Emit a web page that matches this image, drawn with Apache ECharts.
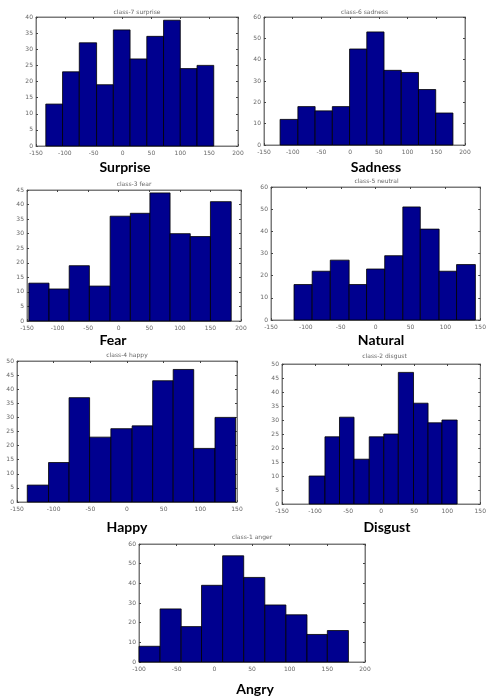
<!DOCTYPE html>
<html>
<head>
<meta charset="utf-8">
<script src="https://cdn.jsdelivr.net/npm/echarts@6/dist/echarts.min.js"></script>
<style>
  * { margin: 0; padding: 0; }
  body { background: #fff; }
  #chart { width: 489px; height: 696px; }
</style>
</head>
<body>
<div id="chart"></div>
<script>
// bin edges (x) and counts per class
var surpriseEdges = [-133, -104, -75, -45, -16, 13, 42, 71, 100, 129, 158];
var surpriseCounts = [13, 23, 32, 19, 36, 27, 34, 39, 24, 25];
var sadnessEdges = [-122, -91, -61, -31, -1, 29, 59, 89, 119, 149, 179];
var sadnessCounts = [12, 18, 16, 18, 45, 53, 35, 34, 26, 15];
var fearEdges = [-147, -114, -81, -48, -14, 19, 51, 84, 117, 150, 184];
var fearCounts = [13, 11, 19, 12, 36, 37, 44, 30, 29, 41];
var neutralEdges = [-117, -91, -65, -38, -13, 13, 39, 64, 91, 116, 143];
var neutralCounts = [16, 22, 27, 16, 23, 29, 51, 41, 22, 25];
var happyEdges = [-136, -107, -79, -51, -22, 7, 35, 63, 91, 120, 148];
var happyCounts = [6, 14, 37, 23, 26, 27, 43, 47, 19, 30];
var disgustEdges = [-109, -85, -63, -41, -18, 4, 26, 49, 71, 92, 115];
var disgustCounts = [10, 24, 31, 16, 24, 25, 47, 36, 29, 30];
var angerEdges = [-100, -72, -44, -17, 11, 39, 67, 95, 123, 150, 178];
var angerCounts = [8, 27, 18, 39, 54, 43, 29, 24, 14, 16];

var plotTitles = ['class-7 surprise', 'class-6 sadness', 'class-3 fear', 'class-5 neutral',
                  'class-4 happy', 'class-2 disgust', 'class-1 anger'];
var captions = ['Surprise', 'Sadness', 'Fear', 'Natural', 'Happy', 'Disgust', 'Angry'];
// axis ranges [xmin, xmax, ymax, yInterval]
var xMins = [-150, -150, -150, -150, -150, -150, -100];
var xMaxs = [200, 200, 200, 150, 150, 150, 200];
var yMaxs = [40, 60, 45, 60, 50, 50, 60];
var yIntervals = [5, 10, 5, 10, 5, 5, 10];

var allEdges = [surpriseEdges, sadnessEdges, fearEdges, neutralEdges, happyEdges, disgustEdges, angerEdges];
var allCounts = [surpriseCounts, sadnessCounts, fearCounts, neutralCounts, happyCounts, disgustCounts, angerCounts];

// layout: [left, top, right, bottom] of plot box, title y, caption x, caption y
var boxes = [
  [36, 17, 238, 146, 12, 125, 167],
  [264, 17, 465, 145, 12, 376, 167],
  [27, 190, 241, 321, 184, 113, 340],
  [271, 187, 482, 320, 181, 381, 340],
  [17, 361, 237, 502, 355, 127, 527],
  [282, 364, 487, 504, 356, 387, 527],
  [139, 544, 365, 662, 537, 255, 689]
];

var chart = echarts.init(document.getElementById('chart'));
var grids = [], xAxes = [], yAxes = [], series = [], graphics = [];
var lineCol = '#7a7a7a';
var tickLab = { fontSize: 6, color: '#666', fontFamily: 'DejaVu Sans' };

function renderBin(params, api) {
  var p0 = api.coord([api.value(0), 0]);
  var p1 = api.coord([api.value(1), api.value(2)]);
  return {
    type: 'rect',
    shape: { x: p0[0], y: p1[1], width: p1[0] - p0[0], height: p0[1] - p1[1] },
    style: { fill: '#00008F', stroke: '#000', lineWidth: 0.8 }
  };
}

for (var k = 0; k < 7; k++) {
  var b = boxes[k];
  grids.push({ left: b[0], top: b[1], width: b[2] - b[0], height: b[3] - b[1],
               show: true, borderColor: lineCol, borderWidth: 1, backgroundColor: '#fff' });
  var xBase = { gridIndex: k, type: 'value', min: xMins[k], max: xMaxs[k], interval: 50,
                splitLine: { show: false },
                axisLine: { show: true, onZero: false, lineStyle: { color: lineCol, width: 1 } },
                axisTick: { show: true, inside: true, length: 2, lineStyle: { color: '#444' } } };
  xAxes.push(Object.assign({}, xBase, { position: 'bottom',
                axisLabel: Object.assign({ margin: 4, showMinLabel: true, showMaxLabel: true }, tickLab) }));
  xAxes.push(Object.assign({}, xBase, { position: 'top', axisLabel: { show: false } }));
  var yBase = { gridIndex: k, type: 'value', min: 0, max: yMaxs[k], interval: yIntervals[k],
                splitLine: { show: false },
                axisLine: { show: true, onZero: false, lineStyle: { color: lineCol, width: 1 } },
                axisTick: { show: true, inside: true, length: 2, lineStyle: { color: '#444' } } };
  yAxes.push(Object.assign({}, yBase, { position: 'left',
                axisLabel: Object.assign({ margin: 3 }, tickLab) }));
  yAxes.push(Object.assign({}, yBase, { position: 'right', axisLabel: { show: false } }));

  var data = [];
  for (var i = 0; i < allCounts[k].length; i++) {
    data.push([allEdges[k][i], allEdges[k][i + 1], allCounts[k][i]]);
  }
  series.push({ type: 'custom', xAxisIndex: 2 * k, yAxisIndex: 2 * k,
                renderItem: renderBin, encode: { x: [0, 1], y: 2 }, data: data, silent: true });

  graphics.push({ type: 'text', x: (b[0] + b[2]) / 2, y: b[4],
                  style: { text: plotTitles[k], fontSize: 6, fill: '#666', fontFamily: 'DejaVu Sans',
                           textAlign: 'center', textVerticalAlign: 'middle' } });
  graphics.push({ type: 'text', x: b[5], y: b[6],
                  style: { text: captions[k], fontSize: 14, fontWeight: 'bold', fill: '#000',
                           fontFamily: 'Lato', textAlign: 'center', textVerticalAlign: 'middle' } });
}

chart.setOption({
  backgroundColor: '#fff',
  animation: false,
  grid: grids,
  xAxis: xAxes,
  yAxis: yAxes,
  series: series,
  graphic: graphics
});
</script>
</body>
</html>
